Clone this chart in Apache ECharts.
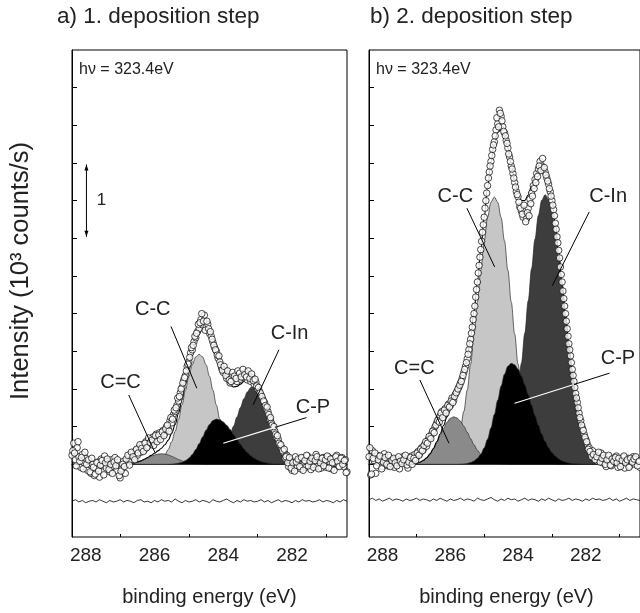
<!DOCTYPE html>
<html><head><meta charset="utf-8">
<script src="https://cdn.jsdelivr.net/npm/echarts@6/dist/echarts.min.js"></script>
<style>html,body{margin:0;padding:0;background:#fff}#c{width:640px;height:613px}</style>
</head><body><div id="c"></div>
<script>
// ---------------- data ----------------
const panelTitles = ['a) 1. deposition step', 'b) 2. deposition step'];
const photonText = 'h\u03bd = 323.4eV';
const xTickLabels = [282, 284, 286, 288];
const xMinorTicks = [281, 283, 285, 287];
const yTicks = [0, 0.5, 1, 1.5, 2, 2.5, 3, 3.5, 4, 4.5, 5];
const xName = 'binding energy (eV)';
const yName = 'Intensity (10\u00b3 counts/s)';

// fit grid (binding energy, eV)
const fitE = [288.4,288.3,288.2,288.1,288.0,287.9,287.8,287.7,287.6,287.5,287.4,287.3,287.2,287.1,287.0,286.9,286.8,286.7,286.6,286.5,286.4,286.3,286.2,286.1,286.0,285.9,285.8,285.7,285.6,285.5,285.4,285.3,285.2,285.1,285.0,284.9,284.8,284.7,284.6,284.5,284.4,284.3,284.2,284.1,284.0,283.9,283.8,283.7,283.6,283.5,283.4,283.3,283.2,283.1,283.0,282.9,282.8,282.7,282.6,282.5,282.4,282.3,282.2,282.1,282.0,281.9,281.8,281.7,281.6,281.5,281.4,281.3,281.2,281.1,281.0,280.9,280.8,280.7,280.6,280.5,280.4];

// panel a components
const aCeqC = [0,0,0,0,0,0,0,0,0,0,0,0,0,0,0.002,0.003,0.006,0.011,0.019,0.030,0.045,0.064,0.085,0.106,0.124,0.136,0.14,0.136,0.124,0.106,0.085,0.064,0.045,0.030,0.019,0.011,0.006,0.003,0.002,0,0,0,0,0,0,0,0,0,0,0,0,0,0,0,0,0,0,0,0,0,0,0,0,0,0,0,0,0,0,0,0,0,0,0,0,0,0,0,0,0,0];
const aCC = [0,0,0,0,0,0,0,0,0,0,0,0,0,0,0,0,0,0,0,0,0,0.003,0.006,0.012,0.022,0.042,0.073,0.124,0.197,0.301,0.435,0.600,0.787,0.984,1.169,1.323,1.425,1.46,1.425,1.323,1.169,0.984,0.787,0.600,0.435,0.301,0.197,0.124,0.073,0.042,0.022,0.012,0.006,0.003,0,0,0,0,0,0,0,0,0,0,0,0,0,0,0,0,0,0,0,0,0,0,0,0,0,0,0];
const aCP = [0,0,0,0,0,0,0,0,0,0,0,0,0,0,0,0,0,0,0,0,0,0,0,0,0,0,0,0,0,0.003,0.007,0.014,0.026,0.048,0.081,0.130,0.195,0.275,0.364,0.453,0.530,0.581,0.6,0.590,0.562,0.517,0.461,0.397,0.331,0.267,0.208,0.157,0.115,0.081,0.056,0.037,0.023,0.015,0.009,0.005,0.003,0,0,0,0,0,0,0,0,0,0,0,0,0,0,0,0,0,0,0,0];
const aCIn = [0,0,0,0,0,0,0,0,0,0,0,0,0,0,0,0,0,0,0,0,0,0,0,0,0,0,0,0,0,0,0,0,0,0,0,0,0.003,0.006,0.011,0.021,0.035,0.058,0.093,0.140,0.206,0.289,0.390,0.506,0.631,0.755,0.869,0.960,1.019,1.04,1.019,0.960,0.869,0.755,0.631,0.506,0.390,0.289,0.206,0.140,0.093,0.058,0.035,0.021,0.011,0.006,0.003,0,0,0,0,0,0,0,0,0,0];
const aFit = [0,0,0,0,0,0,0,0,0,0,0,0,0,0,0.002,0.003,0.006,0.011,0.019,0.030,0.045,0.067,0.091,0.118,0.146,0.178,0.213,0.260,0.321,0.410,0.527,0.678,0.858,1.062,1.269,1.464,1.629,1.744,1.802,1.797,1.734,1.623,1.480,1.330,1.203,1.107,1.048,1.027,1.035,1.064,1.099,1.129,1.140,1.124,1.075,0.997,0.892,0.770,0.640,0.511,0.393,0.289,0.206,0.140,0.093,0.058,0.035,0.021,0.011,0.006,0.003,0,0,0,0,0,0,0,0,0,0];
const aResid = [-0.49,-0.47,-0.50,-0.48,-0.51,-0.49,-0.48,-0.50,-0.47,-0.49,-0.51,-0.48,-0.50,-0.49,-0.47,-0.50,-0.48,-0.49,-0.51,-0.48,-0.47,-0.50,-0.49,-0.51,-0.48,-0.50,-0.47,-0.49,-0.48,-0.50,-0.46,-0.49,-0.51,-0.48,-0.50,-0.49,-0.47,-0.50,-0.48,-0.49,-0.51,-0.47,-0.49,-0.50,-0.48,-0.46,-0.49,-0.51,-0.48,-0.50,-0.47,-0.49,-0.48,-0.50,-0.49,-0.47,-0.50,-0.48,-0.51,-0.49,-0.47,-0.50,-0.48,-0.49,-0.51,-0.48,-0.50,-0.47,-0.49,-0.48,-0.50,-0.49,-0.47,-0.50,-0.48,-0.49,-0.51,-0.48,-0.50,-0.47,-0.49];

// panel b components
const bCeqC = [0,0,0,0,0,0,0,0,0,0,0,0.001,0.003,0.007,0.014,0.028,0.050,0.085,0.136,0.205,0.288,0.382,0.476,0.556,0.610,0.63,0.615,0.571,0.505,0.425,0.340,0.259,0.188,0.130,0.085,0.054,0.032,0.018,0.009,0.005,0.003,0,0,0,0,0,0,0,0,0,0,0,0,0,0,0,0,0,0,0,0,0,0,0,0,0,0,0,0,0,0,0,0,0,0,0,0,0,0,0,0];
const bCC = [0,0,0,0,0,0,0,0,0,0,0,0,0,0,0,0,0,0,0.002,0.005,0.011,0.021,0.039,0.071,0.121,0.199,0.316,0.479,0.703,0.987,1.331,1.729,2.153,2.577,2.964,3.277,3.479,3.55,3.479,3.277,2.964,2.577,2.153,1.729,1.331,0.987,0.703,0.479,0.316,0.199,0.121,0.071,0.039,0.021,0.011,0.005,0.002,0,0,0,0,0,0,0,0,0,0,0,0,0,0,0,0,0,0,0,0,0,0,0,0];
const bCP = [0,0,0,0,0,0,0,0,0,0,0,0,0,0,0,0,0,0,0,0,0,0,0,0,0,0,0,0.002,0.005,0.011,0.023,0.043,0.079,0.135,0.218,0.334,0.483,0.660,0.852,1.038,1.197,1.302,1.34,1.320,1.262,1.172,1.056,0.925,0.785,0.647,0.517,0.402,0.303,0.221,0.158,0.109,0.072,0.047,0.029,0.018,0.011,0.006,0.003,0,0,0,0,0,0,0,0,0,0,0,0,0,0,0,0,0,0];
const bCIn = [0,0,0,0,0,0,0,0,0,0,0,0,0,0,0,0,0,0,0,0,0,0,0,0,0,0,0,0,0,0,0,0,0,0.002,0.005,0.011,0.021,0.039,0.072,0.122,0.200,0.319,0.483,0.709,0.995,1.343,1.743,2.171,2.599,2.989,3.304,3.508,3.58,3.521,3.351,3.086,2.749,2.370,1.973,1.593,1.242,0.938,0.684,0.483,0.331,0.218,0.140,0.088,0.052,0.030,0.016,0.009,0.005,0.002,0,0,0,0,0,0,0];
const bFit = [0,0,0,0,0,0,0,0,0,0,0,0.001,0.003,0.007,0.014,0.028,0.050,0.085,0.138,0.210,0.299,0.403,0.515,0.627,0.731,0.829,0.931,1.052,1.213,1.423,1.694,2.031,2.420,2.844,3.272,3.676,4.015,4.267,4.412,4.442,4.364,4.198,3.976,3.758,3.588,3.502,3.502,3.575,3.700,3.835,3.942,3.981,3.922,3.763,3.520,3.200,2.823,2.417,2.002,1.611,1.253,0.944,0.687,0.483,0.331,0.218,0.140,0.088,0.052,0.030,0.016,0.009,0.005,0.002,0,0,0,0,0,0,0];
const bResid = [-0.47,-0.45,-0.48,-0.46,-0.49,-0.47,-0.45,-0.48,-0.46,-0.47,-0.49,-0.46,-0.48,-0.47,-0.45,-0.48,-0.46,-0.47,-0.49,-0.46,-0.48,-0.45,-0.47,-0.49,-0.46,-0.48,-0.47,-0.45,-0.48,-0.46,-0.47,-0.49,-0.45,-0.47,-0.48,-0.46,-0.44,-0.47,-0.49,-0.46,-0.48,-0.45,-0.47,-0.46,-0.49,-0.47,-0.45,-0.48,-0.46,-0.47,-0.49,-0.46,-0.48,-0.45,-0.47,-0.49,-0.46,-0.48,-0.47,-0.45,-0.48,-0.46,-0.47,-0.49,-0.46,-0.48,-0.45,-0.47,-0.46,-0.48,-0.47,-0.45,-0.48,-0.46,-0.49,-0.47,-0.45,-0.48,-0.46,-0.47,-0.48];

// measured points (two interleaved scans of energies)
const dataE = [288.40,288.35,288.30,288.25,288.20,288.15,288.10,288.05,288.00,287.95,
287.90,287.85,287.80,287.75,287.70,287.65,287.60,287.55,287.50,287.45,
287.40,287.35,287.30,287.25,287.20,287.15,287.10,287.05,287.00,286.95,
286.90,286.85,286.80,286.75,286.70,286.65,286.60,286.55,286.50,286.45,
286.40,286.35,286.30,286.25,286.20,286.15,286.10,286.05,286.00,285.95,
285.90,285.85,285.80,285.75,285.70,285.65,285.60,285.55,285.50,285.45,
285.40,285.35,285.30,285.25,285.20,285.15,285.10,285.05,285.00,284.95,
284.90,284.85,284.80,284.75,284.70,284.65,284.60,284.55,284.50,284.45,
284.40,284.35,284.30,284.25,284.20,284.15,284.10,284.05,284.00,283.95,
283.90,283.85,283.80,283.75,283.70,283.65,283.60,283.55,283.50,283.45,
283.40,283.35,283.30,283.25,283.20,283.15,283.10,283.05,283.00,282.95,
282.90,282.85,282.80,282.75,282.70,282.65,282.60,282.55,282.50,282.45,
282.40,282.35,282.30,282.25,282.20,282.15,282.10,282.05,282.00,281.95,
281.90,281.85,281.80,281.75,281.70,281.65,281.60,281.55,281.50,281.45,
281.40,281.35,281.30,281.25,281.20,281.15,281.10,281.05,281.00,280.95,
280.90,280.85,280.80,280.75,280.70,280.65,280.60,280.55,280.50,280.45,
280.40];
const dataE2 = [288.375,288.325,288.275,288.225,288.175,288.125,288.075,288.025,287.975,287.925,
287.875,287.825,287.775,287.725,287.675,287.625,287.575,287.525,287.475,287.425,
287.375,287.325,287.275,287.225,287.175,287.125,287.075,287.025,286.975,286.925,
286.875,286.825,286.775,286.725,286.675,286.625,286.575,286.525,286.475,286.425,
286.375,286.325,286.275,286.225,286.175,286.125,286.075,286.025,285.975,285.925,
285.875,285.825,285.775,285.725,285.675,285.625,285.575,285.525,285.475,285.425,
285.375,285.325,285.275,285.225,285.175,285.125,285.075,285.025,284.975,284.925,
284.875,284.825,284.775,284.725,284.675,284.625,284.575,284.525,284.475,284.425,
284.375,284.325,284.275,284.225,284.175,284.125,284.075,284.025,283.975,283.925,
283.875,283.825,283.775,283.725,283.675,283.625,283.575,283.525,283.475,283.425,
283.375,283.325,283.275,283.225,283.175,283.125,283.075,283.025,282.975,282.925,
282.875,282.825,282.775,282.725,282.675,282.625,282.575,282.525,282.475,282.425,
282.375,282.325,282.275,282.225,282.175,282.125,282.075,282.025,281.975,281.925,
281.875,281.825,281.775,281.725,281.675,281.625,281.575,281.525,281.475,281.425,
281.375,281.325,281.275,281.225,281.175,281.125,281.075,281.025,280.975,280.925,
280.875,280.825,280.775,280.725,280.675,280.625,280.575,280.525,280.475,280.425];
const aData = [0.12,0.28,0.06,0.22,0.10,-0.04,0.13,0.02,0.08,-0.08,
0.05,-0.12,0.00,-0.15,-0.06,0.03,-0.17,0.07,-0.02,0.11,
-0.05,0.04,-0.10,0.06,-0.03,0.09,-0.08,0.02,-0.18,-0.06,
0.04,-0.12,0.01,0.10,0.05,0.14,0.08,0.18,0.12,0.22,
0.16,0.26,0.19,0.30,0.24,0.33,0.27,0.36,0.31,0.40,
0.34,0.42,0.37,0.45,0.41,0.50,0.47,0.58,0.55,0.66,
0.70,0.78,0.84,0.95,1.02,1.12,1.18,1.30,1.36,1.48,
1.52,1.63,1.68,1.76,1.80,1.92,1.85,1.98,1.82,1.86,
1.74,1.70,1.62,1.55,1.50,1.41,1.36,1.28,1.22,1.25,
1.14,1.20,1.08,1.16,1.12,1.19,1.10,1.18,1.13,1.20,
1.15,1.22,1.12,1.18,1.10,1.15,1.06,1.09,1.00,0.97,
0.92,0.86,0.82,0.74,0.70,0.60,0.55,0.47,0.44,0.36,
0.33,0.25,0.22,0.16,0.08,0.12,-0.03,0.06,-0.08,0.04,
0.10,-0.02,0.05,-0.06,0.08,0.01,-0.04,0.11,0.03,-0.07,
0.06,0.00,0.13,-0.03,0.07,-0.05,0.09,0.02,-0.04,0.10,
0.03,-0.06,0.08,0.01,0.12,-0.02,0.05,0.09,-0.03,0.06,
-0.10];
const aData2 = [0.18,0.15,-0.02,0.30,0.04,0.09,-0.06,0.16,0.00,0.06,
-0.10,0.08,-0.04,-0.13,0.02,-0.09,-0.01,0.05,-0.14,0.02,
0.07,-0.07,0.00,-0.12,0.03,-0.02,0.06,-0.15,-0.09,0.00,
-0.03,0.07,0.12,-0.01,0.16,0.10,0.06,0.20,0.15,0.26,
0.21,0.17,0.28,0.22,0.35,0.29,0.32,0.25,0.38,0.30,
0.39,0.33,0.43,0.38,0.47,0.52,0.44,0.62,0.60,0.72,
0.75,0.88,0.90,1.00,1.08,1.15,1.24,1.33,1.42,1.55,
1.58,1.70,1.74,1.86,1.88,2.00,1.90,1.78,1.90,1.80,
1.76,1.66,1.58,1.52,1.45,1.44,1.32,1.25,1.30,1.18,
1.24,1.12,1.10,1.22,1.17,1.14,1.24,1.21,1.16,1.26,
1.19,1.16,1.24,1.14,1.20,1.11,1.13,1.04,1.02,0.95,
0.90,0.84,0.78,0.76,0.66,0.62,0.52,0.50,0.40,0.38,
0.28,0.26,0.18,0.20,0.10,0.02,0.09,-0.05,0.02,-0.09,
0.03,0.07,-0.03,0.09,-0.08,0.05,0.12,-0.02,0.04,0.08,
-0.04,0.05,0.10,-0.06,0.02,0.08,-0.02,0.06,0.11,-0.05,
0.07,0.02,-0.08,0.10,0.04,-0.03,0.08,0.00,0.05,-0.11];
const bData = [0.10,-0.14,0.18,0.05,-0.12,0.12,0.02,0.08,-0.03,0.14,
0.04,-0.02,0.09,0.01,0.06,-0.04,0.07,0.03,-0.06,0.05,
0.10,0.02,0.07,-0.05,0.06,0.11,0.04,0.13,0.09,0.17,
0.14,0.22,0.19,0.27,0.24,0.33,0.36,0.40,0.45,0.50,
0.55,0.60,0.64,0.70,0.66,0.74,0.72,0.80,0.78,0.88,
0.85,0.93,0.97,1.02,1.08,1.14,1.22,1.30,1.40,1.52,
1.66,1.82,2.00,2.22,2.42,2.64,2.85,3.08,3.28,3.50,
3.70,3.88,4.02,4.18,4.28,4.44,4.52,4.70,4.62,4.48,
4.40,4.30,4.20,4.08,3.96,3.86,3.74,3.62,3.55,3.42,
3.36,3.28,3.38,3.26,3.40,3.52,3.60,3.70,3.78,3.86,
3.92,4.02,3.96,3.92,3.88,3.80,3.72,3.62,3.50,3.38,
3.20,3.02,2.84,2.62,2.42,2.20,2.00,1.80,1.60,1.44,
1.26,1.10,0.94,0.82,0.68,0.58,0.48,0.40,0.33,0.26,
0.22,0.14,0.18,0.08,0.12,0.04,0.09,0.15,0.02,0.07,
-0.03,0.10,0.05,-0.02,0.08,0.03,0.11,-0.04,0.06,0.01,
0.09,-0.05,0.04,0.08,-0.02,0.05,0.10,0.00,0.06,0.03,
-0.04];
const bData2 = [0.22,-0.13,0.08,0.15,-0.02,0.06,0.11,-0.06,0.03,0.09,
0.00,0.12,-0.03,0.05,0.08,0.02,-0.02,0.10,0.04,0.01,
0.06,0.12,-0.01,0.03,0.09,0.00,0.08,0.05,0.15,0.12,
0.20,0.18,0.25,0.30,0.28,0.37,0.34,0.44,0.42,0.52,
0.58,0.56,0.68,0.62,0.72,0.68,0.78,0.76,0.84,0.82,
0.90,0.95,1.00,1.05,1.10,1.18,1.26,1.35,1.46,1.60,
1.74,1.92,2.10,2.32,2.54,2.75,2.96,3.18,3.40,3.60,
3.80,3.96,4.10,4.24,4.36,4.60,4.48,4.66,4.56,4.42,
4.36,4.26,4.12,4.02,3.92,3.80,3.68,3.58,3.48,3.40,
3.32,3.44,3.22,3.34,3.30,3.46,3.56,3.66,3.74,3.82,
3.96,3.90,4.06,3.94,3.84,3.76,3.66,3.56,3.44,3.30,
3.12,2.94,2.74,2.52,2.30,2.10,1.90,1.70,1.52,1.35,
1.18,1.02,0.88,0.75,0.62,0.52,0.45,0.36,0.30,0.20,
0.17,0.10,0.13,0.06,0.10,0.16,0.03,0.08,0.12,0.00,
0.06,0.12,-0.01,0.07,0.04,0.09,0.02,0.08,-0.03,0.05,
0.11,0.02,0.06,-0.04,0.08,0.03,0.07,0.10,-0.02,0.04];

// annotation anchors, in data units [E, I]
const annotations = [
  [ {text:'C-C',  at:[286.05,2.05], line:[[285.52,1.83],[284.77,1.01]]},
    {text:'C-In', at:[282.07,1.74], line:[[282.38,1.52],[283.13,0.79]]},
    {text:'C=C',  at:[286.99,1.08], line:[[286.75,0.92],[285.98,0.15]]},
    {text:'C-P',  at:[281.39,0.76], line:[[281.58,0.62],[282.50,0.49]], inner:[[282.50,0.49],[284.00,0.28]]} ],
  [ {text:'C-C',  at:[285.85,3.55], line:[[285.51,3.40],[284.69,2.62]]},
    {text:'C-In', at:[281.34,3.55], line:[[281.90,3.35],[282.99,2.37]]},
    {text:'C=C',  at:[287.06,1.27], line:[[286.90,1.12],[286.04,0.28]]},
    {text:'C-P',  at:[281.05,1.41], line:[[281.30,1.21],[282.35,1.06]], inner:[[282.35,1.06],[284.10,0.81]]} ]
];
const scaleBar = {e:287.98, from:3.02, to:3.98, label:'1', labelAt:[287.68,3.5]};

// ---------------- chart ----------------
const FONT = "'Liberation Sans', Arial, Helvetica, sans-serif";
const pairs = (xs, ys) => xs.map((x, i) => [x, ys[i]]);
const chart = echarts.init(document.getElementById('c'), null, {renderer: 'canvas'});

const gridDefs = [{left: 72}, {left: 369}].map(g => ({
  left: g.left, top: 50, width: 275, height: 487, show: true,
  borderColor: '#000', borderWidth: 1, backgroundColor: 'transparent', containLabel: false
}));

const xAxes = [], yAxes = [];
[0, 1].forEach(g => {
  xAxes[g] = {
    gridIndex: g, type: 'value', min: 280.4, max: 288.4, inverse: true, position: 'bottom',
    axisLine: {show: true, lineStyle: {color: '#000', width: 1}},
    axisTick: {show: true, inside: true, length: 6, customValues: xTickLabels, lineStyle: {color: '#000', width: 1}},
    axisLabel: {show: true, customValues: xTickLabels, fontSize: 19, fontFamily: FONT, color: '#222', margin: 9},
    splitLine: {show: false}
  };
  xAxes[g + 2] = {
    gridIndex: g, type: 'value', min: 280.4, max: 288.4, inverse: true, position: 'bottom',
    axisLine: {show: false},
    axisTick: {show: true, inside: true, length: 3, customValues: xMinorTicks, lineStyle: {color: '#000', width: 1}},
    axisLabel: {show: false}, splitLine: {show: false}
  };
  yAxes[g] = {
    gridIndex: g, type: 'value', min: -0.965, max: 5.5,
    axisLine: {show: true, lineStyle: {color: '#000', width: 1}},
    axisTick: {show: true, inside: true, length: 5, customValues: yTicks, lineStyle: {color: '#000', width: 1}},
    axisLabel: {show: false}, splitLine: {show: false}
  };
});

function area(g, vals, color, z) {
  return {type: 'line', xAxisIndex: g, yAxisIndex: g, data: pairs(fitE, vals),
    smooth: 0.35, smoothMonotone: 'x', showSymbol: false, symbol: 'none', z: z, silent: true,
    lineStyle: {color: '#2a2a2a', width: 0.7}, areaStyle: {color: color, opacity: 1}};
}
function points(g, xs, ys) {
  return {type: 'scatter', xAxisIndex: g, yAxisIndex: g, data: pairs(xs, ys), z: 8, silent: true,
    symbol: 'circle', symbolSize: 6.5, itemStyle: {color: '#fff', borderColor: '#000', borderWidth: 0.9}};
}
const series = [];
const panels = [
  {CC: aCC, CIn: aCIn, CeqC: aCeqC, CP: aCP, fit: aFit, resid: aResid, data: aData, data2: aData2},
  {CC: bCC, CIn: bCIn, CeqC: bCeqC, CP: bCP, fit: bFit, resid: bResid, data: bData, data2: bData2}
];
const firstSeries = [];
panels.forEach((p, g) => {
  firstSeries[g] = series.length;
  series.push(area(g, p.CC, '#c6c6c6', 2));
  series.push(area(g, p.CIn, '#3d3d3d', 3));
  series.push(area(g, p.CeqC, '#8a8a8a', 4));
  series.push(area(g, p.CP, '#000000', 5));
  series.push({type: 'line', xAxisIndex: g, yAxisIndex: g, data: pairs(fitE, p.fit), smooth: 0.35, smoothMonotone: 'x',
    showSymbol: false, symbol: 'none', z: 6, silent: true, lineStyle: {color: '#000', width: 1.1}});
  series.push({type: 'line', xAxisIndex: g, yAxisIndex: g, data: pairs(fitE, p.resid),
    showSymbol: false, symbol: 'none', z: 6, silent: true, lineStyle: {color: '#000', width: 0.8}});
  series.push(points(g, dataE, p.data));
  series.push(points(g, dataE2, p.data2));
});

chart.setOption({
  animation: false, backgroundColor: '#fff',
  grid: gridDefs, xAxis: xAxes, yAxis: yAxes, series: series
});

// ---------------- annotations ----------------
const px = (g, pt) => chart.convertToPixel({seriesIndex: firstSeries[g]}, pt);
const graphics = [];
const txt = (x, y, text, size, opts) => Object.assign({type: 'text', x: x, y: y, z: 100,
  style: Object.assign({text: text, fontSize: size, fontFamily: FONT, fill: '#222', align: 'left', verticalAlign: 'middle'}, opts || {})});
const seg = (a, b, color, w) => ({type: 'line', z: 100, shape: {x1: a[0], y1: a[1], x2: b[0], y2: b[1]},
  style: {stroke: color, lineWidth: w}});

panelTitles.forEach((t, g) => graphics.push(txt([57, 370][g], 17, t, 22.5)));
[0, 1].forEach(g => {
  graphics.push(txt(gridDefs[g].left + 7, 69.5, photonText, 16));
  graphics.push(txt(gridDefs[g].left + 137.5, 597, xName, 20, {align: 'center'}));
  annotations[g].forEach(a => {
    const c = px(g, a.at);
    graphics.push(txt(c[0], c[1], a.text, 20, {align: 'center'}));
    graphics.push(seg(px(g, a.line[0]), px(g, a.line[1]), '#000', 1));
    if (a.inner) graphics.push(seg(px(g, a.inner[0]), px(g, a.inner[1]), '#fff', 1.2));
  });
});
graphics.push({type: 'text', x: 21, y: 271, rotation: Math.PI / 2, z: 100,
  style: {text: yName, fontSize: 25.5, fontFamily: FONT, fill: '#222', align: 'center', verticalAlign: 'middle'}});
// scale bar (1 unit)
const s0 = px(0, [scaleBar.e, scaleBar.from]), s1 = px(0, [scaleBar.e, scaleBar.to]);
graphics.push(seg(s0, s1, '#000', 1));
graphics.push({type: 'polygon', z: 100, shape: {points: [[s1[0] - 2, s1[1] + 6], [s1[0] + 2, s1[1] + 6], [s1[0], s1[1]]]}, style: {fill: '#000'}});
graphics.push({type: 'polygon', z: 100, shape: {points: [[s0[0] - 2, s0[1] - 6], [s0[0] + 2, s0[1] - 6], [s0[0], s0[1]]]}, style: {fill: '#000'}});
const lb = px(0, scaleBar.labelAt);
graphics.push(txt(lb[0], lb[1], scaleBar.label, 17));
chart.setOption({graphic: graphics});
</script>
</body></html>
